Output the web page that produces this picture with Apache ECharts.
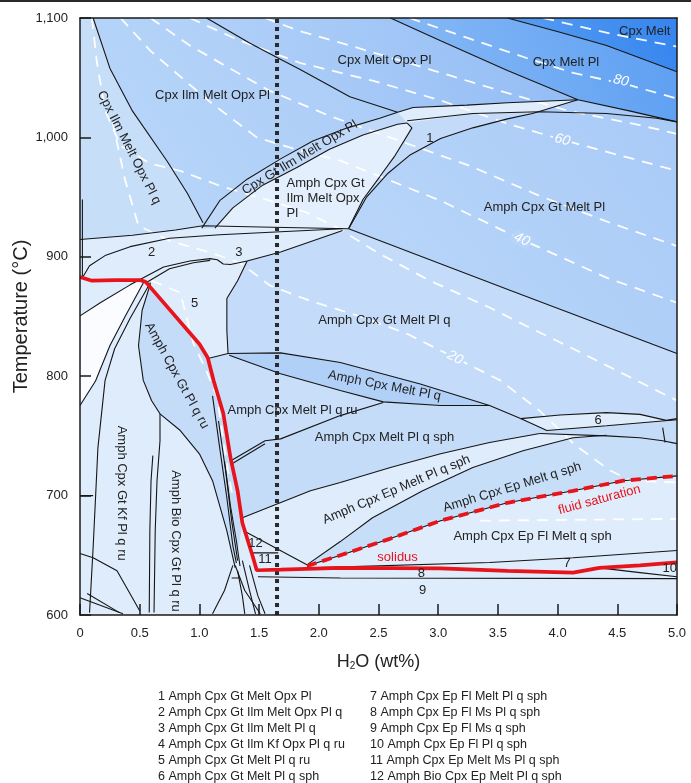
<!DOCTYPE html>
<html lang="en">
<head>
<meta charset="UTF-8">
<title>H2O - T pseudosection</title>
<script src="https://cdn.jsdelivr.net/npm/echarts/dist/echarts.min.js"></script>
<style>
  html, body { margin: 0; background: #fff; }
  #container { width: 691px; height: 783px; }
</style>
</head>
<body>
<div id="container"></div>
<script>
const FONT = '"Liberation Sans", Arial, sans-serif';

// ---- field boundaries, [H2O wt%, T °C] ----
const bCpxMelt = [[3.58,1100],[4.02,1088],[4.41,1077],[5,1055]];
const bMeltPl  = [[2.6,1100],[3.02,1081],[3.58,1056],[4.17,1031.5],[4.61,1022],[5,1013]];
const bOpxTop  = [[1.06,1100],[1.42,1079],[1.65,1067],[1.84,1057],[2.26,1034],[2.66,1021]];
const bIlmQ    = [[0.11,1100],[0.25,1058],[0.44,1022],[0.73,980],[0.9,953],[1.03,928.5]];
const bBandU   = [[1.02,924],[1.17,947],[1.4,965],[1.68,982],[1.95,997],[2.24,1008],[2.51,1016],[2.66,1021]];
const bBandL   = [[1.13,924],[1.28,941],[1.53,960],[1.82,975],[2.09,990],[2.37,1002],[2.66,1011],[2.74,1012]];
const bIlmR    = [[2.74,1012],[2.78,1008],[2.64,985],[2.51,967],[2.37,948],[2.25,924]];
const bA       = [[2.66,1021],[2.79,1025],[3.24,1027],[3.58,1029],[4.17,1031.5]];
const bB       = [[2.74,1014],[3.29,1020],[3.85,1021.5],[4.41,1020],[4.83,1016],[5,1013]];
const bD       = [[2.25,923.5],[2.4,950],[2.58,970],[2.76,985],[3.02,999],[3.29,1008],[3.58,1015.5],[3.79,1020],[4.17,1031.5]];
const bH       = [[0,914.5],[0.44,918],[0.8,922.5],[1.03,926],[1.51,925],[2.25,923.5]];
const bG       = [[2.25,923.5],[3.6,872],[5,819]];
const bAlpha   = [[0.02,882.5],[0.08,892.5],[0.21,901],[0.42,908.5],[0.75,915.5],[1.17,918.5],[1.68,921],[2.2,923.5]];
const bBeta    = [[0,850.5],[0.17,861.5],[0.42,876.5],[0.7,891.5],[0.92,896.5],[1.09,898.5],[1.15,897.5],[1.2,894],[1.26,893.5],[1.4,896.5],[1.68,904],[2.2,922]];
const bBeta2   = [[0.55,878],[0.75,890],[0.95,895],[1.09,897]];
const bF5R     = [[1.4,896.5],[1.32,880],[1.23,865],[1.23,838],[1.24,819]];
const bF5B     = [[1.08,815],[1.24,819]];
const bWtop    = [[1.24,819],[1.68,819.5],[2.18,811.5],[2.85,793.5],[3.43,775.5],[3.69,764.5]];
const bWbot    = [[1.25,817.5],[1.68,802],[2.18,788],[2.54,778.5],[3.02,775.5],[3.43,775.5]];
const bQS      = [[1.26,729],[1.55,746],[1.68,747.5],[2.18,767],[2.54,778]];
const bQS2     = [[1.27,726.5],[1.55,743.5]];
const b6U      = [[3.69,764.5],[4.02,767.5],[4.41,769.5],[4.69,768],[4.91,763],[5,764.5]];
const b6M      = [[3.69,764.5],[3.91,754.5],[4.41,758.5],[5,763.5]];
const b6L      = [[3.85,752],[4.41,750],[4.69,748.5],[4.88,746],[5,743.5]];
const b6V      = [[4.88,757],[4.9,744.5]];
const bEPtop   = [[1.36,681.5],[1.93,704],[2.18,711],[2.6,723.5],[3.02,735],[3.43,744.5],[3.85,752]];
const b12top   = [[1.37,670.5],[1.9,642]];
const b1112    = [[1.44,652],[1.66,652]];
const bEPM     = [[1.9,642],[2.18,661.5],[2.45,681.5],[2.87,704],[3.29,723.5],[3.71,737.5],[4.13,748.5],[4.41,750.5]];
const b7top    = [[1.93,639.5],[3.43,644],[4.13,648],[5,654]];
const b8       = [[1.49,632],[2.18,631],[5,630.5]];
const b10      = [[4.35,639.5],[4.69,635.5],[5,632]];
const bEdge    = [[0.02,948],[0.02,883]];
const bLLa     = [[0.54,880],[0.38,850.5],[0.25,825.5],[0.13,796],[0,775.5]];
const bLLb     = [[0.59,878.5],[0.42,848.5],[0.29,823],[0.21,796.5],[0.15,740],[0.13,698],[0.11,656.5],[0.08,602]];
const bGtPlL   = [[0.59,877.5],[0.52,855],[0.49,825.5],[0.53,796.5],[0.6,779.5],[0.67,768.5],[0.84,754.5],[1.0,735],[1.11,712.5],[1.23,670.5],[1.3,639.5]];
const bBioL    = [[0.67,768.5],[0.67,746],[0.645,712.5],[0.63,670.5],[0.62,602]];
const bBioL2   = [[0.61,733.5],[0.595,712.5],[0.585,670.5],[0.58,602]];
const bLow700  = [[0,700],[0.11,700]];
const bLowA    = [[0,651.5],[0.11,648],[0.31,637],[0.5,603.5]];
const bLowB    = [[0,614.5],[0.36,601]];
const bLowC    = [[0.06,618],[0.33,602]];
const bC1      = [[1.11,783.5],[1.17,740],[1.23,698],[1.28,658],[1.31,643.5]];
const bC2      = [[1.16,762.5],[1.22,720.5],[1.27,679],[1.32,645.5]];
const bC3      = [[1.21,729],[1.26,691.5],[1.31,662],[1.34,641]];
const bF1      = [[1.28,641.5],[1.21,620.5],[1.11,601]];
const bF2      = [[1.3,641.5],[1.38,620.5],[1.51,601]];
const bF3      = [[1.32,637],[1.36,616],[1.38,601]];
const bF4      = [[1.36,645.5],[1.42,620.5],[1.47,601]];
const bF5      = [[1.42,641.5],[1.49,616],[1.55,601]];
const bTri     = [[1.27,631],[1.34,631]];
const bFluid   = [[1.9,641],[2.24,652],[2.6,664],[3.02,679],[3.58,694],[4.13,704],[4.55,712.5],[5,716.5]];
const solidus  = [[0,883],[0.1,880],[0.3,880.5],[0.5,880.5],[0.55,879],[1.0,827],[1.07,815.5],[1.12,796],[1.2,769],[1.26,732],[1.32,704],[1.36,677],[1.45,648],[1.48,637.5],[1.68,638],[2.18,639.5],[3.02,639],[3.58,637],[4.13,635.5],[4.35,639.5],[4.69,641.5],[5,644]];
const sampleH2O = [[1.65,600],[1.65,1100]];

// ---- melt isopleths (vol%) ----
const iso90 = [[3.88,1100],[4.44,1087],[5,1076]];
const iso80 = [[2.76,1100],[3.24,1083.5],[3.74,1066.5],[4.13,1054],[4.61,1043.5],[5,1032.5]];
const iso70 = [[1.55,1100],[1.84,1089],[2.26,1077],[2.96,1056],[3.52,1039],[4.08,1022.5],[4.63,1011.5],[5,1003]];
const iso60 = [[0.92,1100],[1.34,1081],[1.84,1062.5],[2.45,1047.5],[3.02,1031],[3.58,1011.5],[4.04,998],[4.52,985],[5,972]];
const iso50 = [[0.59,1100],[0.92,1077],[1.26,1057.5],[1.59,1039],[2.09,1018],[2.68,997],[3.27,976],[3.85,951],[4.44,928.5],[5,909]];
const iso40 = [[0.34,1100],[0.59,1072.5],[0.88,1047.5],[1.11,1028],[1.48,1000],[1.84,989],[2.18,980.5],[3.02,947],[3.7,914.5],[4.41,882.5],[5,861.5]];
const iso30 = [[0.1,1100],[0.14,1064],[0.21,1022.5],[0.34,993],[0.59,978],[0.84,972],[1.17,959.5],[1.59,947],[1.9,937],[2.15,924.5],[2.51,902.5],[2.93,880],[3.43,857.5],[3.74,842],[4.13,823],[4.55,802],[5,779.5]];
const iso20 = [[0.27,1014],[0.38,963.5],[0.49,926],[0.75,913.5],[1.09,903.5],[1.34,895],[1.59,876],[1.93,863],[2.35,850],[2.74,835.5],[3.14,815.5],[3.52,796.5],[3.85,771],[4.15,742],[4.44,721],[4.61,712.5],[5,711]];
const iso10 = [[0.6,880],[0.84,870],[0.95,827.5],[1.05,806.5],[1.15,782],[1.2,746],[1.24,721],[1.28,698]];
const iso10Fl = [[3.35,679],[5,680.5]];
const isoLabels = [
  { t: '80', x: 4.53, y: 1047.5, r: -13, bg: '#68a5f3' },
  { t: '60', x: 4.04, y: 998, r: -16, bg: '#aecef8' },
  { t: '40', x: 3.7, y: 914.5, r: -25, bg: '#b6d4f8' },
  { t: '20', x: 3.14, y: 815.5, r: -27, bg: '#c3dbf9' }
];

// ---- field names ----
const fieldLabels = [
  { t: 'Cpx Melt', x: 4.73, y: 1089 },
  { t: 'Cpx Melt Pl', x: 4.07, y: 1062.5 },
  { t: 'Cpx Melt Opx Pl', x: 2.55, y: 1064.5 },
  { t: 'Cpx Ilm Melt Opx Pl', x: 1.11, y: 1035 },
  { t: 'Cpx Ilm Melt Opx Pl q', x: 0.41, y: 991.5, r: -63 },
  { t: 'Cpx Gt Ilm Melt Opx Pl', x: 1.84, y: 983, r: 31 },
  { t: 'Amph Cpx Gt\nIlm Melt Opx\nPl', x: 1.73, y: 967.5, a: 'left' },
  { t: '1', x: 2.93, y: 999 },
  { t: 'Amph Cpx Gt Melt Pl', x: 3.89, y: 941 },
  { t: '2', x: 0.6, y: 903.5 },
  { t: '3', x: 1.33, y: 903.5 },
  { t: '5', x: 0.96, y: 861 },
  { t: 'Amph Cpx Gt Melt Pl q', x: 2.55, y: 846.5 },
  { t: 'Amph Cpx Gt Pl q ru', x: 0.81, y: 800.5, r: -61 },
  { t: 'Amph Cpx Melt Pl q', x: 2.55, y: 792, r: -11 },
  { t: 'Amph Cpx Melt Pl q ru', x: 1.78, y: 771 },
  { t: 'Amph Cpx Melt Pl q sph', x: 2.55, y: 748.5 },
  { t: '6', x: 4.34, y: 763 },
  { t: 'Amph Cpx Ep Melt Pl q sph', x: 2.65, y: 705, r: 23 },
  { t: 'Amph Cpx Ep Melt q sph', x: 3.62, y: 707, r: 17 },
  { t: 'Amph Cpx Ep Fl Melt q sph', x: 3.79, y: 665.5 },
  { t: '7', x: 4.08, y: 643 },
  { t: '8', x: 2.86, y: 634.5 },
  { t: '9', x: 2.87, y: 620.5 },
  { t: '10', x: 4.94, y: 639 },
  { t: '11', x: 1.55, y: 646.5 },
  { t: '12', x: 1.47, y: 660 },
  { t: 'Amph Cpx Gt Kf Pl q ru', x: 0.35, y: 702, r: -90 },
  { t: 'Amph Bio Cpx Gt Pl q ru', x: 0.8, y: 662, r: -90 },
  { t: 'solidus', x: 2.66, y: 648, c: '#e8141b' },
  { t: 'fluid saturation', x: 4.35, y: 696.5, r: 15, c: '#e8141b' }
];

const notesLeft = [
  '1 Amph Cpx Gt Melt Opx Pl',
  '2 Amph Cpx Gt Ilm Melt Opx Pl q',
  '3 Amph Cpx Gt Ilm Melt Pl q',
  '4 Amph Cpx Gt Ilm Kf Opx Pl q ru',
  '5 Amph Cpx Gt Melt Pl q ru',
  '6 Amph Cpx Gt Melt Pl q sph'
];
const notesRight = [
  '7 Amph Cpx Ep Fl Melt Pl q sph',
  '8 Amph Cpx Ep Fl Ms Pl q sph',
  '9 Amph Cpx Ep Fl Ms q sph',
  '10 Amph Cpx Ep Fl Pl q sph',
  '11 Amph Cpx Ep Melt Ms Pl q sph',
  '12 Amph Bio Cpx Ep Melt Pl q sph'
];

function rev(a) { return a.slice().reverse(); }
function grad(c1, c2) {
  // bottom-left -> top-right
  return new echarts.graphic.LinearGradient(0, 1, 1, 0, [
    { offset: 0, color: c1 }, { offset: 1, color: c2 }
  ]);
}

// shaded fields built from the boundaries
const fields = [
  { pts: bCpxMelt.concat([[5,1100]]), fill: grad('#5a9ff2', '#3585ef') },
  { pts: bMeltPl.concat([[5,1055]], rev(bCpxMelt)), fill: grad('#8dbcf6', '#5b9ef2') },
  { pts: bOpxTop.concat(bA, rev(bMeltPl.slice(0, 4))), fill: grad('#b2d1f8', '#92bcf5') },
  { pts: bIlmQ.concat(bBandU, rev(bOpxTop)), fill: grad('#bad7f9', '#a9cbf7') },
  { pts: [[0,1100]].concat(bIlmQ, rev(bH.slice(0, 4))), fill: '#c7def9' },
  { pts: bBandU.concat(rev(bBandL)), fill: '#c0d9f8' },
  { pts: bBandL.concat(bIlmR.slice(1), [[1.13,924]]), fill: '#e3effc' },
  { pts: rev(bIlmR).concat([[3.29,1020],[3.79,1020.5]], rev(bD.slice(0, 8))), fill: '#c3dbf9' },
  { pts: bD.concat([[4.61,1022],[5,1013],[5,819]], rev(bG)), fill: grad('#bcd8f9', '#a8caf7') },
  { pts: bG.concat([[5,764.5]], rev(b6U), rev(bWtop), rev(bF5R), bBeta.slice(9)), fill: '#c4dcf9' },
  { pts: bGtPlL.concat(rev(solidus.slice(4, 12))), fill: '#c5dcf9' },
  { pts: solidus.slice(6, 10).concat(bQS, rev(bWbot.slice(0, 4)), rev(bF5B)), fill: '#c9dff9' },
  { pts: bWtop.slice(0, 5).concat(rev(bWbot)), fill: '#b1d0f8' },
  { pts: bQS.concat(bWbot.slice(3), [bWtop[5]], b6M.slice(1), rev(b6L), rev(bEPtop), [solidus[10]]), fill: '#c5dcf9' },
  { pts: bEPM.concat(b6L.slice(2), [[5,716.5]], rev(bFluid)), fill: '#c7def9' },
  { pts: bBeta.slice(0, 3).concat(bLLa), fill: '#fafcff' }
];

const boundaries = [bCpxMelt, bMeltPl, bOpxTop, bIlmQ, bBandU, bBandL, bIlmR, bA, bB, bD, bH, bG,
  bAlpha, bBeta, bBeta2, bF5R, bF5B, bWtop, bWbot, bQS, bQS2, b6U, b6M, b6L, b6V, bEPtop, b12top, b1112,
  bEPM, bFluid, b7top, b8, b10, bEdge, bLLa, bLLb, bGtPlL, bBioL, bBioL2, bLow700, bLowA, bLowB, bLowC,
  bC1, bC2, bC3, bF1, bF2, bF3, bF4, bF5, bTri];
const isopleths = [iso90, iso80, iso70, iso60, iso50, iso40, iso30, iso20, iso10, iso10Fl];

function lineSeries(data, color, width, type, z) {
  return {
    type: 'line', data: data, symbol: 'none', silent: true, z: z, animation: false,
    lineStyle: { color: color, width: width, type: type || 'solid', cap: 'butt' }
  };
}

const series = [];
series.push({
  type: 'custom', silent: true, z: 1, animation: false,
  data: fields.map(f => f.pts[0]),
  renderItem: function (params, api) {
    const f = fields[params.dataIndex];
    return { type: 'polygon', shape: { points: f.pts.map(p => api.coord(p)) }, style: { fill: f.fill } };
  }
});
isopleths.forEach(d => series.push(lineSeries(d, 'rgba(255,255,255,0.95)', 1.8, [11, 8], 2)));
boundaries.forEach(d => series.push(lineSeries(d, '#151515', 1.1, 'solid', 3)));
series.push(lineSeries(sampleH2O, '#2b2b2b', 4, [4, 4], 4));
series.push(lineSeries(solidus, '#e8141b', 3.7, 'solid', 5));
series.push(lineSeries(bFluid, '#e8141b', 3.8, [10, 6], 5));

// text in the plot
series.push({
  type: 'custom', silent: true, z: 6, animation: false,
  data: isoLabels.map(l => [l.x, l.y]),
  renderItem: function (params, api) {
    const l = isoLabels[params.dataIndex];
    const p = api.coord([l.x, l.y]);
    return {
      type: 'text', x: p[0], y: p[1], rotation: l.r * Math.PI / 180,
      style: { text: l.t, fill: '#ffffff', fontSize: 14, fontStyle: 'italic', fontFamily: FONT,
        align: 'center', verticalAlign: 'middle', backgroundColor: l.bg, padding: [0, 2] }
    };
  }
});
series.push({
  type: 'custom', silent: true, z: 7, animation: false,
  data: fieldLabels.map(l => [l.x, l.y]),
  renderItem: function (params, api) {
    const l = fieldLabels[params.dataIndex];
    const p = api.coord([l.x, l.y]);
    return {
      type: 'text', x: p[0], y: p[1], rotation: (l.r || 0) * Math.PI / 180,
      style: { text: l.t, fill: l.c || '#222', fontSize: 13, fontFamily: FONT, lineHeight: 15,
        align: l.a || 'center', verticalAlign: l.a ? 'top' : 'middle' }
    };
  }
});

const axisLineStyle = { color: '#1a1a1a', width: 1.5 };
const option = {
  animation: false,
  grid: { left: 80, right: 14, top: 18, bottom: 168, containLabel: false, outerBoundsMode: 'none',
    show: true, backgroundColor: '#dfecfb', borderWidth: 0 },
  xAxis: [{
    type: 'value', min: 0, max: 5, interval: 0.5, position: 'bottom', z: 10,
    name: 'H{s|2}O (wt%)', nameLocation: 'middle', nameGap: 38,
    nameTextStyle: { fontSize: 18, color: '#222', fontFamily: FONT,
      rich: { s: { fontSize: 10, color: '#222', fontFamily: FONT, verticalAlign: 'bottom', lineHeight: 9 } } },
    axisLine: { show: true, onZero: false, lineStyle: axisLineStyle },
    axisTick: { show: true, inside: true, length: 11, lineStyle: axisLineStyle },
    axisLabel: { margin: 12, color: '#222', fontSize: 13, fontFamily: FONT,
      formatter: v => v === 0 ? '0' : v.toFixed(1) },
    splitLine: { show: false }
  }, {
    type: 'value', min: 0, max: 5, position: 'top', z: 10,
    axisLine: { show: true, onZero: false, lineStyle: axisLineStyle },
    axisTick: { show: false }, axisLabel: { show: false }, splitLine: { show: false }
  }],
  yAxis: [{
    type: 'value', min: 600, max: 1100, interval: 100, position: 'left', z: 10,
    name: 'Temperature (°C)', nameLocation: 'middle', nameGap: 49, nameRotate: 90, nameMoveOverlap: false,
    nameTextStyle: { fontSize: 20, color: '#222', fontFamily: FONT },
    axisLine: { show: true, onZero: false, lineStyle: axisLineStyle },
    axisTick: { show: true, inside: true, length: 11, lineStyle: axisLineStyle },
    axisLabel: { margin: 12, color: '#222', fontSize: 13, fontFamily: FONT,
      formatter: v => v >= 1000 ? Math.floor(v / 1000) + ',' + String(v % 1000).padStart(3, '0') : String(v) },
    splitLine: { show: false }
  }, {
    type: 'value', min: 600, max: 1100, position: 'right', z: 10,
    axisLine: { show: true, onZero: false, lineStyle: axisLineStyle },
    axisTick: { show: false }, axisLabel: { show: false }, splitLine: { show: false }
  }],
  graphic: [
    { type: 'rect', left: 0, top: 0, shape: { width: 691, height: 2 }, style: { fill: '#2a2a2a' } },
    { type: 'text', left: 158, top: 689,
      style: { text: notesLeft.join('\n'), fontSize: 12.5, fontFamily: FONT, lineHeight: 16, fill: '#222' } },
    { type: 'text', left: 370, top: 689,
      style: { text: notesRight.join('\n'), fontSize: 12.5, fontFamily: FONT, lineHeight: 16, fill: '#222' } }
  ],
  series: series
};

const chart = echarts.init(document.getElementById('container'), null, { renderer: 'canvas' });
chart.setOption(option);
</script>
</body>
</html>
